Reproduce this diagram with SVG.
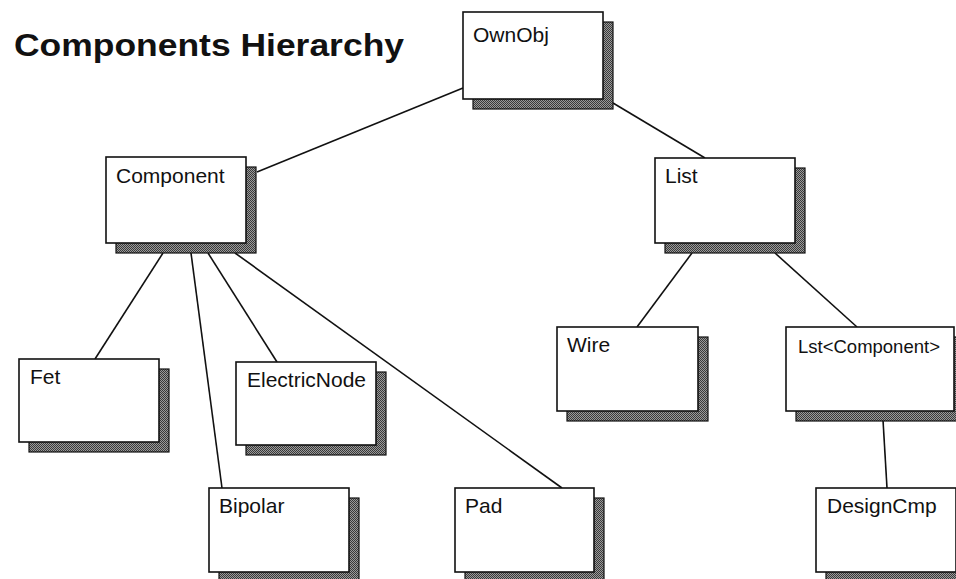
<svg xmlns="http://www.w3.org/2000/svg" width="956" height="579" viewBox="0 0 956 579">
<defs>
<pattern id="hatch" width="2" height="2" patternUnits="userSpaceOnUse">
<rect width="2" height="2" fill="#9a9a9a"/>
<rect width="1" height="1" fill="#3a3a3a"/>
<rect x="1" y="1" width="1" height="1" fill="#3a3a3a"/>
</pattern>
</defs>
<style>
.sh{fill:url(#hatch);stroke:#111;stroke-width:1.2}
.bx{fill:#fff;stroke:#111;stroke-width:1.6}
.lb{font-family:"Liberation Sans",Arial,sans-serif;font-size:21px;fill:#111}
.cn line{stroke:#111;stroke-width:1.6}
</style>
<rect width="956" height="579" fill="#fff"/>
<text x="14" y="56" font-family="'Liberation Sans',Arial,sans-serif" font-weight="bold" font-size="31" fill="#111" textLength="390" lengthAdjust="spacingAndGlyphs">Components Hierarchy</text>
<g id="connectors" class="cn">
<line x1="257" y1="172" x2="463" y2="88"/>
<line x1="613" y1="103" x2="705" y2="158"/>
<line x1="163" y1="253" x2="95" y2="359"/>
<line x1="191" y1="253" x2="222" y2="488"/>
<line x1="208" y1="253" x2="277" y2="362"/>
<line x1="235" y1="253" x2="562" y2="488"/>
<line x1="692" y1="253" x2="637" y2="327"/>
<line x1="775" y1="253" x2="857" y2="327"/>
<line x1="883" y1="420" x2="887" y2="488"/>
</g>
<g id="OwnObj"><rect class="sh" x="473" y="22" width="140" height="87"/><rect class="bx" x="463" y="12" width="140" height="87"/><text class="lb" x="473" y="42">OwnObj</text></g>
<g id="Component"><rect class="sh" x="116" y="167" width="140" height="86"/><rect class="bx" x="106" y="157" width="140" height="86"/><text class="lb" x="116" y="183">Component</text></g>
<g id="List"><rect class="sh" x="665" y="168" width="140" height="85"/><rect class="bx" x="655" y="158" width="140" height="85"/><text class="lb" x="665" y="183">List</text></g>
<g id="Fet"><rect class="sh" x="29" y="369" width="140" height="83"/><rect class="bx" x="19" y="359" width="140" height="83"/><text class="lb" x="30" y="384">Fet</text></g>
<g id="ElectricNode"><rect class="sh" x="246" y="372" width="140" height="83"/><rect class="bx" x="236" y="362" width="140" height="83"/><text class="lb" x="247" y="387">ElectricNode</text></g>
<g id="Wire"><rect class="sh" x="567" y="337" width="141" height="84"/><rect class="bx" x="557" y="327" width="141" height="84"/><text class="lb" x="567" y="352">Wire</text></g>
<g id="LstComponent"><rect class="sh" x="796" y="337" width="168" height="84"/><rect class="bx" x="786" y="327" width="168" height="84"/><text class="lb" x="798" y="353" style="font-size:18.5px">Lst&lt;Component&gt;</text></g>
<g id="Bipolar"><rect class="sh" x="219" y="498" width="140" height="84"/><rect class="bx" x="209" y="488" width="140" height="84"/><text class="lb" x="219" y="513">Bipolar</text></g>
<g id="Pad"><rect class="sh" x="465" y="498" width="139" height="84"/><rect class="bx" x="455" y="488" width="139" height="84"/><text class="lb" x="465" y="513">Pad</text></g>
<g id="DesignCmp"><rect class="sh" x="826" y="498" width="140" height="84"/><rect class="bx" x="816" y="488" width="140" height="84"/><text class="lb" x="827" y="513">DesignCmp</text></g>
</svg>
